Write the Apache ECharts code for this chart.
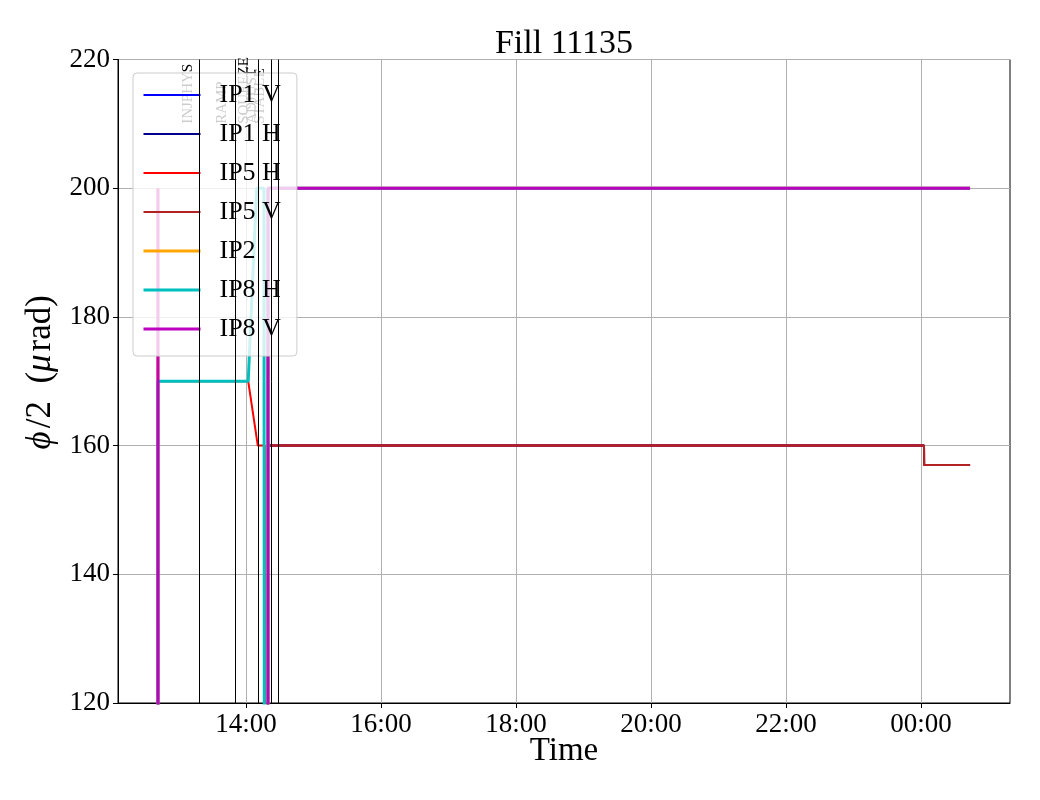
<!DOCTYPE html>
<html>
<head>
<meta charset="utf-8">
<script src="https://cdn.jsdelivr.net/npm/echarts@6/dist/echarts.min.js"></script>
<style>
  html, body { margin: 0; padding: 0; background: #fff; }
  #chart { width: 1040px; height: 800px; }
</style>
</head>
<body>
<div id="chart"></div>
<script>
// crossing angle per IP, [time, value] ; times after midnight belong to the next day
const ip1V = [['14:19:30', 0], ['14:19:35', 160], ['00:02:40', 160], ['00:02:45', 157], ['00:43:35', 157]]
const ip1H = [['14:19:30', 0], ['14:19:35', 160], ['00:02:40', 160], ['00:02:45', 157], ['00:43:35', 157]]
const ip5H = [['12:41:45', 0], ['12:41:45', 170], ['14:02:00', 170], ['14:10:30', 160], ['14:16:40', 160],
              ['14:17:00', 0], ['14:19:30', 0], ['14:19:35', 160], ['00:02:40', 160], ['00:02:45', 157], ['00:43:35', 157]]
const ip5V = [['14:19:30', 0], ['14:19:35', 160], ['00:02:40', 160], ['00:02:45', 157], ['00:43:35', 157]]
const ip2  = [['12:41:45', 0], ['12:41:45', 200], ['12:42:00', 0], ['14:19:30', 0], ['14:19:35', 200], ['00:43:35', 200]]
const ip8H = [['12:41:45', 0], ['12:41:45', 170], ['14:02:00', 170], ['14:09:30', 200], ['14:16:00', 200],
              ['14:16:40', 0], ['14:19:30', 0], ['14:19:35', 200], ['00:43:35', 200]]
const ip8V = [['12:41:45', 0], ['12:41:45', 200], ['12:42:00', 0], ['14:19:30', 0], ['14:19:35', 200], ['00:43:35', 200]]

const seriesNames = ['IP1 V', 'IP1 H', 'IP5 H', 'IP5 V', 'IP2', 'IP8 H', 'IP8 V']
const seriesColors = ['#0000ff', '#00008b', '#ff0000', '#b22222', '#ffa500', '#00bfbf', '#bf00bf']
const seriesWidths = [2, 2, 2, 2, 3, 3, 3]

// beam modes
const modeLineTimes = ['13:18:30', '13:50:10', '14:10:55', '14:22:50', '14:28:40']
const modeLabels = ['INJPHYS', 'RAMP', 'SQUEEZE', 'ADJUST', 'STABLE']
const modeLabelTimes = ['13:15:00', '13:45:00', '14:04:40', '14:11:45', '14:18:50']
const modeLabelY = 210

const xTicks = ['14:00', '16:00', '18:00', '20:00', '22:00', '00:00']
const xMin = '12:06:15'
const xMax = '01:19:05'

// hours since midnight of the first day
function t(s) {
  const p = s.split(':').map(Number)
  let h = p[0]
  if (h < 12) h += 24
  return h + p[1] / 60 + (p[2] || 0) / 3600
}
function fmt(v) {
  const h = Math.floor(v + 1e-6) % 24
  const m = Math.round((v - Math.floor(v + 1e-6)) * 60)
  return String(h).padStart(2, '0') + ':' + String(m).padStart(2, '0')
}

const allData = [ip1V, ip1H, ip5H, ip5V, ip2, ip8H, ip8V]
const font = 'Liberation Serif'
const tickVals = xTicks.map(t)

const chart = echarts.init(document.getElementById('chart'))

const option = {
  animation: false,
  title: {
    text: 'Fill 11135',
    left: 559, top: 22, textAlign: 'center',
    textStyle: { fontFamily: font, fontSize: 34, fontWeight: 'normal', color: '#000' }
  },
  grid: {
    left: 118, right: 30, top: 59.5, bottom: 97,
    show: true, borderColor: '#000', borderWidth: 1
  },
  legend: {
    data: seriesNames,
    orient: 'vertical',
    left: 133, top: 73,
    padding: [7, 16, 12, 9],
    itemWidth: 57, itemHeight: 14, itemGap: 9,
    backgroundColor: 'rgba(255,255,255,0.8)',
    borderColor: '#cccccc', borderWidth: 1, borderRadius: 4,
    itemStyle: { opacity: 0 },
    lineStyle: { width: 'inherit' },
    textStyle: { fontFamily: font, fontSize: 26, color: '#000', lineHeight: 30, padding: [0, 0, 0, 14] }
  },
  xAxis: {
    type: 'value',
    min: t(xMin), max: t(xMax),
    name: 'Time', nameLocation: 'middle', nameGap: 32, nameMoveOverlap: false,
    nameTextStyle: { fontFamily: font, fontSize: 33, color: '#000' },
    axisLine: { onZero: false, lineStyle: { color: '#000', width: 1 } },
    axisTick: { show: true, length: 5, lineStyle: { color: '#000' }, customValues: tickVals },
    axisLabel: {
      fontFamily: font, fontSize: 27, color: '#000', margin: 8,
      customValues: tickVals,
      formatter: v => fmt(v)
    },
    splitLine: { show: true, lineStyle: { color: '#b0b0b0', width: 1 } }
  },
  yAxis: {
    type: 'value', min: 120, max: 220, interval: 20,
    name: '{i|ϕ}/2  ({i|μ}rad)', nameLocation: 'middle', nameGap: 56,
    nameTextStyle: {
      fontFamily: font, fontSize: 35, color: '#000', padding: [0, 0, 0, 18],
      rich: { i: { fontFamily: font, fontSize: 35, fontStyle: 'italic', color: '#000', padding: [0, 3, 0, 0] } }
    },
    axisLine: { show: true, lineStyle: { color: '#000', width: 1 } },
    axisTick: { show: true, length: 5, lineStyle: { color: '#000' } },
    axisLabel: { fontFamily: font, fontSize: 27, color: '#000', margin: 8 },
    splitLine: { show: true, lineStyle: { color: '#b0b0b0', width: 1 } }
  },
  series: seriesNames.map((name, i) => {
    const s = {
      name: name,
      type: 'line',
      symbol: 'none',
      clip: true,
      color: seriesColors[i],
      lineStyle: { color: seriesColors[i], width: seriesWidths[i] },
      data: allData[i].map(d => [t(d[0]), d[1]])
    }
    if (i === 0) {
      s.markLine = {
        silent: true, symbol: 'none',
        label: { show: false },
        lineStyle: { color: '#000', width: 1, type: 'solid' },
        data: modeLineTimes.map(m => ({ xAxis: t(m) }))
      }
    }
    return s
  })
}

chart.setOption(option)

// mode names written vertically next to the mode lines
chart.setOption({
  graphic: modeLabels.map((lab, i) => {
    const p = chart.convertToPixel({ gridIndex: 0 }, [t(modeLabelTimes[i]), modeLabelY])
    return {
      type: 'text', z: 1, silent: true,
      x: p[0], y: p[1], rotation: Math.PI / 2,
      style: {
        text: lab, fill: '#000', fontFamily: font, fontSize: 15,
        align: 'left', verticalAlign: 'bottom'
      }
    }
  })
})
</script>
</body>
</html>
